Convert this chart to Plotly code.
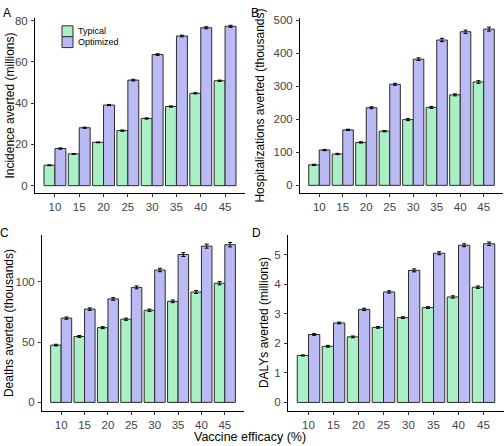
import plotly.graph_objects as go

W, H = 504, 446

efficacy = [10, 15, 20, 25, 30, 35, 40, 45]
x_ticks = [10, 15, 20, 25, 30, 35, 40, 45]

inc_typ = [9.9, 15.4, 21.0, 26.7, 32.6, 38.4, 44.8, 50.9]
inc_typ_err = [0.2, 0.2, 0.2, 0.3, 0.3, 0.3, 0.3, 0.3]
inc_opt = [18.0, 28.1, 39.1, 51.2, 63.6, 72.6, 76.6, 77.3]
inc_opt_err = [0.3, 0.3, 0.3, 0.4, 0.4, 0.4, 0.5, 0.5]

hosp_typ = [62, 95, 130, 164, 199, 236, 274, 313]
hosp_typ_err = [2, 2, 2, 2, 3, 3, 3, 4]
hosp_opt = [107, 168, 235, 306, 382, 440, 465, 473]
hosp_opt_err = [2, 2, 3, 3, 4, 5, 5, 6]

death_typ = [47.5, 54.7, 62.0, 69.0, 76.4, 83.8, 91.5, 98.8]
death_typ_err = [0.7, 0.8, 0.8, 0.9, 1.0, 1.1, 1.2, 1.3]
death_opt = [69.9, 77.4, 85.8, 95.4, 109.8, 122.6, 129.6, 130.8]
death_opt_err = [0.9, 1.0, 1.1, 1.2, 1.4, 1.6, 1.7, 1.8]

daly_typ = [1.59, 1.90, 2.22, 2.54, 2.87, 3.21, 3.57, 3.90]
daly_typ_err = [0.02, 0.03, 0.03, 0.03, 0.03, 0.03, 0.04, 0.04]
daly_opt = [2.30, 2.69, 3.15, 3.74, 4.47, 5.05, 5.32, 5.37]
daly_opt_err = [0.03, 0.03, 0.04, 0.04, 0.05, 0.05, 0.05, 0.06]

series_names = ["Typical", "Optimized"]
colors = ["#a9f0c5", "#babbf5"]
outline = "#2b2b2b"

y_titles = ["Incidence averted (millions)", "Hospitalizations averted (thousands)",
            "Deaths averted (thousands)", "DALYs averted (millions)"]
panel_labels = ["A", "B", "C", "D"]
x_title = "Vaccine efficacy (%)"

y_tickvals = [[0, 20, 40, 60, 80], [0, 100, 200, 300, 400, 500],
              [0, 50, 100], [0, 1, 2, 3, 4, 5]]
y_ranges = [[-3.7, 81.4], [-24, 507], [-7.4, 138.9], [-0.30, 5.67]]

panels = [
    (inc_typ, inc_typ_err, inc_opt, inc_opt_err),
    (hosp_typ, hosp_typ_err, hosp_opt, hosp_opt_err),
    (death_typ, death_typ_err, death_opt, death_opt_err),
    (daly_typ, daly_typ_err, daly_opt, daly_opt_err),
]

# pixel layout of the panels (left, right, top, bottom)
boxes = [(35, 245, 14, 191), (300, 503, 14, 191), (42, 244, 233, 411), (288, 504, 233, 411)]


def px(x):
    return x / W


def py(y):
    return 1 - y / H


fig = go.Figure()
layout = dict(
    width=W, height=H, margin=dict(l=0, r=0, t=0, b=0),
    paper_bgcolor="white", plot_bgcolor="white",
    barmode="group", bargap=0.1, bargroupgap=0.0,
    showlegend=False,
    font=dict(family="Liberation Sans, Arial, sans-serif", color="#000"),
)

annotations = []
shapes = []
for i, (typ, typ_e, opt, opt_e) in enumerate(panels):
    sfx = "" if i == 0 else str(i + 1)
    xa, ya = "x" + sfx, "y" + sfx
    for name, vals, errs, col in [(series_names[0], typ, typ_e, colors[0]),
                                  (series_names[1], opt, opt_e, colors[1])]:
        fig.add_trace(go.Bar(
            x=efficacy, y=vals, name=name, xaxis=xa, yaxis=ya,
            offsetgroup=name,
            marker=dict(color=col, line=dict(color=outline, width=1)),
            error_y=dict(type="data", array=errs, color="#000", thickness=1, width=2),
        ))
    l, r, t, b = boxes[i]
    axis_common = dict(showline=True, linecolor="#000", linewidth=1, ticks="outside",
                       ticklen=3, tickcolor="#333", tickwidth=1, showgrid=False, zeroline=False,
                       tickfont=dict(size=11.5, color="#444", family="Liberation Sans, Arial, sans-serif"))
    layout["xaxis" + sfx] = dict(axis_common, domain=[px(l), px(r)], anchor=ya,
                                 range=[5.9, 49.1], tickvals=x_ticks, ticklabelstandoff=0)
    layout["yaxis" + sfx] = dict(axis_common, domain=[py(b), py(t)], anchor=xa,
                                 range=y_ranges[i], tickvals=y_tickvals[i], ticklabelstandoff=1)

# axis titles
title_x = [10, 260, 9, 264]
for i in range(4):
    l, r, t, b = boxes[i]
    annotations.append(dict(text=y_titles[i], x=px(title_x[i]), y=py((t + b) / 2), xref="paper", yref="paper",
                            textangle=-90, showarrow=False, xanchor="center", yanchor="middle",
                            font=dict(size=12, color="#000")))
label_pos = [(6.5, 9), (255, 9), (4, 231), (256, 231)]
for i in range(4):
    annotations.append(dict(text=panel_labels[i], x=px(label_pos[i][0]), y=py(label_pos[i][1]),
                            xref="paper", yref="paper", showarrow=False, xanchor="center", yanchor="middle",
                            font=dict(size=12, color="#000")))
annotations.append(dict(text=x_title, x=px(250), y=py(437), xref="paper", yref="paper", showarrow=False,
                        xanchor="center", yanchor="middle", font=dict(size=12.5, color="#000")))

# legend keys
leg_x0, leg_x1 = 62, 73
leg_rows = [(22, 33), (33, 44)]
for k in range(2):
    y0, y1 = leg_rows[k]
    shapes.append(dict(type="rect", xref="paper", yref="paper", x0=px(leg_x0), x1=px(leg_x1),
                       y0=py(y1), y1=py(y0), fillcolor=colors[k], line=dict(color=outline, width=1)))
    annotations.append(dict(text=series_names[k], x=px(76), y=py((y0 + y1) / 2), xref="paper", yref="paper",
                            showarrow=False, xanchor="left", yanchor="middle", font=dict(size=9, color="#000")))

layout["annotations"] = annotations
layout["shapes"] = shapes
fig.update_layout(**layout)
fig.write_html("out.html", config={"displayModeBar": False},
               post_script="document.body.style.margin='0';document.body.style.overflow='hidden';")
